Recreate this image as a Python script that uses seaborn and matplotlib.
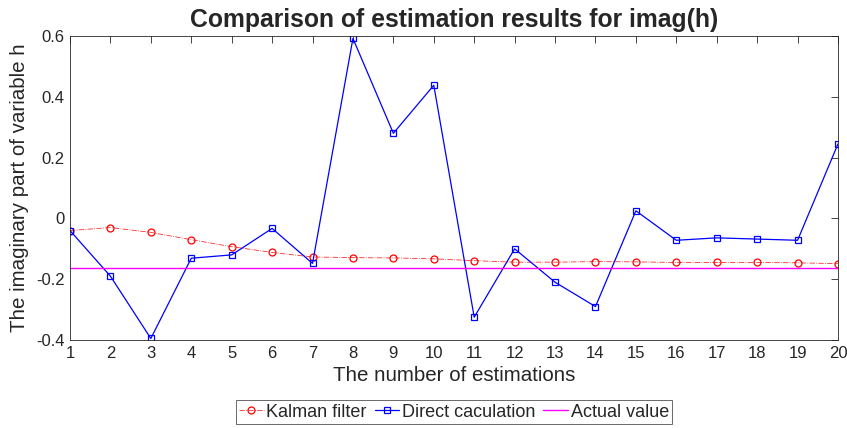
import numpy as np
import pandas as pd
import seaborn as sns
import matplotlib.pyplot as plt

# data
n_est = list(range(1, 21))
kalman = [-0.040, -0.030, -0.046, -0.070, -0.093, -0.112, -0.127, -0.129, -0.130, -0.133,
          -0.139, -0.144, -0.144, -0.142, -0.143, -0.145, -0.145, -0.145, -0.146, -0.149]
direct = [-0.040, -0.190, -0.395, -0.131, -0.120, -0.033, -0.148, 0.592, 0.280, 0.438,
          -0.325, -0.100, -0.210, -0.290, 0.025, -0.072, -0.064, -0.068, -0.072, 0.245]
actual = [-0.162] * 20

df = pd.DataFrame({"n": n_est, "kalman": kalman, "direct": direct, "actual": actual})

sns.set_style("white")
plt.rcParams['font.family'] = ['Liberation Sans', 'DejaVu Sans']

fig = plt.figure(figsize=(8.47, 4.28), dpi=100)
ax = fig.add_axes([70 / 847, 1 - 340 / 428, 768 / 847, 304 / 428])

sns.lineplot(data=df, x="n", y="kalman", ax=ax, color="#ff3030", linestyle="-.", linewidth=0.6,
             marker="o", markersize=5, markerfacecolor="none", markeredgecolor="red",
             markeredgewidth=0.9, label="Kalman filter")
sns.lineplot(data=df, x="n", y="direct", ax=ax, color="blue", linewidth=0.9,
             marker="s", markersize=4, markerfacecolor="none", markeredgecolor="blue",
             markeredgewidth=0.9, label="Direct caculation")
sns.lineplot(data=df, x="n", y="actual", ax=ax, color="magenta", linewidth=1.0,
             label="Actual value")

ax.set_xlim(1, 20)
ax.set_ylim(-0.4, 0.6)
ax.set_xticks(n_est)
ax.set_yticks([-0.4, -0.2, 0, 0.2, 0.4, 0.6])
ax.set_yticklabels(["-0.4", "-0.2", "0", "0.2", "0.4", "0.6"])
ax.tick_params(direction="in", top=True, right=True, length=5, width=0.6,
               labelsize=12, colors="#262626", pad=4)
for s in ax.spines.values():
    s.set_color("#262626")
    s.set_linewidth(0.6)

# baseline of the title sits 9 px above the top of the axes
ax.set_title("Comparison of estimation results for imag(h)", fontsize=17.8, fontweight="bold",
             y=1 + 9 / 304, va="baseline", pad=0)
ax.set_xlabel("The number of estimations", fontsize=14.8, color="#262626", labelpad=4)
ax.set_ylabel("The imaginary part of variable h", fontsize=14.8, color="#262626", labelpad=5)

leg = ax.legend(loc="upper center", bbox_to_anchor=(0.5, -60 / 304), ncol=3, fontsize=13,
                frameon=True, fancybox=False, handlelength=1.35, handletextpad=0.15,
                columnspacing=0.45, borderpad=0.2, borderaxespad=0)
leg.get_frame().set_edgecolor("#262626")
leg.get_frame().set_linewidth(0.6)

fig.savefig("out.png", dpi=100)
